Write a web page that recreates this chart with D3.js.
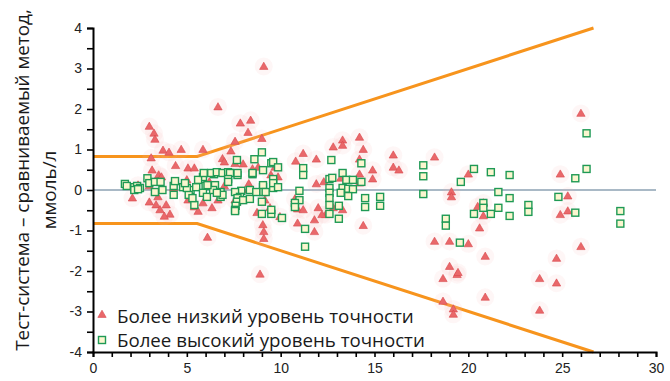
<!DOCTYPE html>
<html><head><meta charset="utf-8">
<script src="https://cdn.jsdelivr.net/npm/d3@7"></script>
<style>body{margin:0;background:#fff}svg{display:block}</style>
</head><body><svg id="c" width="670" height="381"></svg>
<script>
const xTicks = [0,5,10,15,20,25,30];
const yTicks = [-4,-3,-2,-1,0,1,2,3,4];
const lowX = [9.1,6.66,8.4,7.85,8.26,9.0,7.57,7.35,5.86,4.7,3.73,4.05,3.0,3.25,3.3,3.1,6.9,7.0,8.0,8.5,7.57,8.8,9.7,5.06,5.4,3.15,3.5,3.65,9.48,9.86,
 2.1,2.4,3.0,3.46,3.36,3.57,3.9,3.0,4.1,3.8,4.3,5.06,5.4,5.6,5.86,6.34,6.66,7.57,8.26,9.16,9.43,8.74,9.96,6.1,9.05,9.1,9.1,8.9,10.9,11.8,11.8,12.4,5.0,6.2,7.0,8.3,4.4,
 14.2,13.3,13.3,12.8,14.4,11.2,10.8,11.9,14.2,16.0,16.0,16.3,18.2,14.9,14.9,14.2,12.3,11.9,14.2,13.2,19.1,19.1,20.0,10.76,10.9,11.2,12.0,12.2,12.8,13.3,14.4,18.2,19.0,20.0,20.5,20.6,
 26.0,24.9,25.3,25.3,24.9,20.8,20.8,20.9,24.7,26.0,19.0,19.4,19.45,18.65,20.9,18.65,19.2,19.2,23.8,24.7,23.8];
const lowY = [3.05,2.05,1.72,1.65,1.42,1.27,1.2,0.96,1.0,1.0,0.98,0.93,1.57,1.4,1.25,0.79,0.77,0.69,0.64,0.52,0.65,0.56,0.56,0.54,0.54,0.49,0.37,0.32,0.37,0.32,
 -0.2,0.12,0.1,-0.17,-0.37,-0.49,-0.37,-0.3,-0.6,-0.65,0.05,-0.25,-0.42,-0.53,-0.32,-0.44,-0.25,-0.25,0.0,-0.25,-0.44,-0.56,-0.66,-1.17,-0.86,-1.03,-1.2,-2.08,-0.82,-0.74,-1.03,-0.61,0.25,0.2,0.1,0.15,0.6,
 1.3,1.23,1.1,1.06,1.0,0.9,0.71,0.76,0.76,0.86,0.56,0.49,0.81,0.49,0.27,0.39,0.2,0.15,0.17,0.29,-0.05,-0.17,0.39,-0.22,-0.47,-0.49,-0.44,-0.61,-0.44,-0.49,-0.88,-1.27,-1.27,-1.33,-0.41,-0.94,
 1.89,0.39,-0.15,-0.52,-0.61,-0.32,-0.64,-1.64,-1.69,-1.4,-1.89,-2.09,-2.04,-2.19,-2.65,-2.75,-2.94,-3.07,-2.19,-2.3,-2.97];
const highX = [1.7,1.8,2.2,2.35,2.5,2.2,2.4,2.9,3.0,3.3,3.6,3.7,3.3,4.3,4.37,4.3,4.8,5.2,5.1,5.4,5.5,5.86,5.6,6.0,5.86,6.07,6.45,5.9,6.3,6.6,6.9,7.2,7.3,6.5,6.4,6.8,6.8,6.9,7.2,7.2,7.67,7.7,7.7,7.9,7.57,7.83,7.7,7.67,7.6,7.57,8.0,8.36,8.36,8.6,9.0,8.5,8.5,9.06,9.5,9.6,9.86,9.6,9.6,9.6,9.06,9.06,9.06,8.7,9.2,9.0,9.0,9.5,9.5,10.07,9.86,7.57,5.3,6.1,6.6,5.0,4.9,
 11.2,11.2,12.7,14.3,13.3,12.6,12.75,13.5,13.85,14.3,13.3,13.6,13.85,12.6,12.6,13.2,13.6,11.0,11.0,10.76,10.76,12.6,12.6,13.1,12.6,13.1,14.5,14.5,15.3,15.3,11.3,11.3,
 17.6,17.6,17.6,18.8,18.8,19.55,19.6,20.3,20.3,21.2,22.2,21.6,22.2,20.8,20.8,21.6,21.2,22.2,23.2,23.2,26.3,26.3,25.7,24.8,25.7,28.1,28.1];
const highY = [0.15,0.1,0.07,0.1,0.05,0.0,0.02,0.29,0.17,0.2,0.2,0.0,-0.05,0.1,0.22,-0.12,0.07,0.0,-0.12,-0.37,0.07,0.32,0.25,0.1,-0.07,-0.17,0.39,0.42,0.42,0.44,0.42,0.44,0.42,0.12,0.0,-0.05,-0.17,-0.12,0.27,0.2,0.74,0.37,0.42,-0.02,-0.05,-0.17,-0.2,-0.29,-0.39,-0.49,-0.25,-0.22,0.0,0.76,0.93,0.39,0.42,0.49,0.66,0.69,0.56,0.27,0.05,0.17,0.07,0.12,-0.05,-0.05,-0.05,-0.29,-0.59,-0.59,-0.49,-0.69,0.07,-0.52,-0.2,0.12,-0.07,0.05,0.17,
 0.54,0.37,0.74,0.66,0.42,0.27,0.3,0.25,0.25,0.2,0.05,0.03,0.02,0.05,-0.07,-0.07,-0.15,-0.02,-0.25,-0.32,-0.42,-0.2,-0.37,-0.39,-0.59,-0.71,-0.2,-0.42,-0.17,-0.39,-0.96,-1.4,
 0.61,0.34,-0.1,-0.71,-0.88,-1.3,0.2,0.52,-0.59,0.44,0.37,-0.05,-0.2,-0.32,-0.44,-0.44,-0.59,-0.64,-0.37,-0.54,1.4,0.52,0.29,-0.17,-0.56,-0.52,-0.83];
const limitX = [0,5.55,26.67];
const limitUpper = [0.83,0.83,4];
const limitLower = [-0.83,-0.83,-4];
const legendLabels = ["Более низкий уровень точности","Более высокий уровень точности"];
const yTitle = ["Тест-система – сравниваемый метод,","ммоль/л"];

const svg = d3.select("#c");
const x = d3.scaleLinear().domain([0,30]).range([93,656]);
const y = d3.scaleLinear().domain([-4,4]).range([352,28]);

// zero line
svg.append("line").attr("x1",x(0)).attr("x2",x(30)).attr("y1",y(0)).attr("y2",y(0))
  .attr("stroke","#a9b9c6").attr("stroke-width",2.2);

// limit lines
const ln = d3.line().x(d=>x(d[0])).y(d=>y(d[1]));
[limitUpper,limitLower].forEach(arr=>{
  svg.append("path").attr("d",ln(limitX.map((v,i)=>[v,arr[i]])))
   .attr("fill","none").attr("stroke","#f7941d").attr("stroke-width",3);
});

const tri = d3.symbol().type(d3.symbolTriangle).size(30);
const halo = svg.append("g");
lowX.forEach((v,i)=>{
  halo.append("circle").attr("cx",x(v)).attr("cy",y(lowY[i])).attr("r",9)
   .attr("fill","#f4b5b5").attr("opacity",0.12);
});
const gl = svg.append("g");
lowX.forEach((v,i)=>{
  gl.append("path").attr("d",tri).attr("transform",`translate(${x(v)},${y(lowY[i])+0.5})`)
   .attr("fill","#e9686a").attr("stroke","#d9474b").attr("stroke-width",0.6);
});
const gh = svg.append("g");
highX.forEach((v,i)=>{
  gh.append("rect").attr("x",x(v)-3.5).attr("y",y(highY[i])-3.5).attr("width",7).attr("height",7)
   .attr("fill","#fbf6cf").attr("stroke","#1f9a55").attr("stroke-width",1.4);
});

// axes
const yAx = d3.axisLeft(y).tickValues(d3.range(-4,4.01,0.5)).tickSize(6).tickFormat(d=>Number.isInteger(d)?d:"");
const ga = svg.append("g").attr("transform",`translate(${x(0)},0)`).call(yAx);
ga.select(".domain").attr("stroke","#000").attr("stroke-width",2);
ga.selectAll(".tick line").attr("stroke","#000").attr("stroke-width",1.6);
ga.selectAll(".tick text").attr("font-family","Liberation Sans, Arial").attr("font-size",14).attr("fill","#222").attr("x",-11);

const xAx = d3.axisBottom(x).tickValues(d3.range(0,30.01,1)).tickSize(5).tickFormat(d=>xTicks.includes(d)?d:"");
const gx = svg.append("g").attr("transform",`translate(0,${y(-4)})`).call(xAx);
gx.select(".domain").attr("stroke","#000").attr("stroke-width",2);
gx.selectAll(".tick line").attr("stroke","#000").attr("stroke-width",1.6);
gx.selectAll(".tick text").attr("font-family","Liberation Sans, Arial").attr("font-size",14).attr("fill","#222").attr("dy","0.95em").attr("y",8);

// fit helper
function fit(t, w){ const l=t.node().getComputedTextLength(); const fs=parseFloat(t.attr("font-size")); t.attr("font-size",fs*w/l); }

// legend
const lg = svg.append("g");
lg.append("path").attr("d",tri).attr("transform",`translate(${x(0)+9},315)`).attr("fill","#e9686a").attr("stroke","#d9474b").attr("stroke-width",0.6);
lg.append("rect").attr("x",x(0)+9-3.5).attr("y",336.5).attr("width",7).attr("height",7).attr("fill","#fbf6cf").attr("stroke","#1f9a55").attr("stroke-width",1.4);
const t1 = lg.append("text").attr("x",117).attr("y",323).attr("font-family","Open Sans").attr("font-size",16).attr("fill","#1a1a1a").text(legendLabels[0]);
fit(t1,297);
const t2 = lg.append("text").attr("x",117).attr("y",347).attr("font-family","Open Sans").attr("font-size",16).attr("fill","#1a1a1a").text(legendLabels[1]);
fit(t2,308);

// y title
const yt1 = svg.append("text").attr("transform","translate(29,180) rotate(-90)").attr("text-anchor","middle")
  .attr("font-family","Open Sans").attr("font-size",17).attr("fill","#1a1a1a").text(yTitle[0]);
fit(yt1,342);
const yt2 = svg.append("text").attr("transform","translate(56,190) rotate(-90)").attr("text-anchor","middle")
  .attr("font-family","Open Sans").attr("font-size",17).attr("fill","#1a1a1a").text(yTitle[1]);
yt2.attr("font-size", yt1.attr("font-size"));
</script></body></html>
